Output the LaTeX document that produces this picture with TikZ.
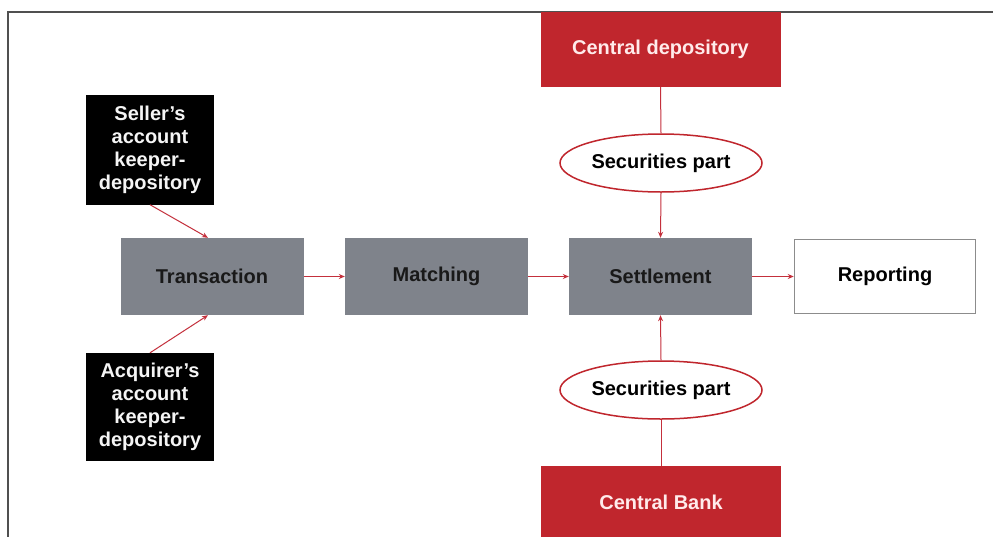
\documentclass[tikz,border=0pt]{standalone}
\usepackage{fontspec}
\setmainfont{Liberation Sans}
\usetikzlibrary{arrows.meta}
\definecolor{boxgray}{RGB}{127,131,139}
\definecolor{boxred}{RGB}{192,38,45}
\definecolor{linered}{RGB}{196,48,60}
\definecolor{framegray}{RGB}{80,80,80}
\definecolor{redtext}{RGB}{255,235,235}
\tikzset{
  every node/.style={font=\fontsize{20}{23}\selectfont\bfseries, align=center, inner sep=0pt},
  graybox/.style={rectangle, fill=boxgray, minimum width=183pt, minimum height=77pt, text=black!90},
  blackbox/.style={rectangle, fill=black, minimum width=128pt, text=white!92!gray},
  redbox/.style={rectangle, fill=boxred, minimum width=240pt, minimum height=75pt, text=redtext},
  whitebox/.style={rectangle, fill=white, draw=gray!90, line width=1.5pt, minimum width=181pt, minimum height=74pt},
  partell/.style={ellipse, draw=boxred, line width=1.5pt, fill=white, minimum width=202pt, minimum height=58pt},
  conn/.style={draw=linered, line width=1pt},
  arr/.style={conn, -{Stealth[length=6pt,width=5pt]}}
}
\usetikzlibrary{shapes.geometric}
\begin{document}
\begin{tikzpicture}[x=1pt,y=-1pt]
\useasboundingbox (0,0) rectangle (993,536);
\fill[white] (0,0) rectangle (993,536);
\draw[framegray, line width=1.5pt] (995,12) -- (8,12) -- (8,540);

\node[blackbox, minimum height=110pt] (seller) at (150,149.5) {Seller's\\account\\keeper-\\depository};
\node[blackbox, minimum height=108pt] (acq) at (150,407) {Acquirer's\\account\\keeper-\\depository};
\node[graybox] (trans) at (212,276.5) {Transaction};
\node[graybox] (match) at (436.5,276.5) {Matching};
\node[graybox] (settle) at (660.5,276.5) {Settlement};
\node[whitebox] (report) at (885,276.5) {Reporting};
\node[redbox] (cd) at (660.5,49.5) {Central depository};
\node[redbox, minimum height=72pt] (cb) at (661,502) {Central Bank};
\node[partell] (e1) at (661,163) {Securities part};
\node[partell] (e2) at (661,390) {Securities part};

\draw[arr] (seller.south) -- ([xshift=-4pt]trans.north);
\draw[arr] (acq.north) -- ([xshift=-4pt]trans.south);
\draw[arr] (trans.east) -- (match.west);
\draw[arr] (match.east) -- (settle.west);
\draw[arr] (settle.east) -- (report.west);
\draw[conn] (cd.south) -- (e1.north);
\draw[arr] (e1.south) -- (settle.north);
\draw[conn] (cb.north) -- (e2.south);
\draw[arr] (e2.north) -- (settle.south);
\end{tikzpicture}
\end{document}
